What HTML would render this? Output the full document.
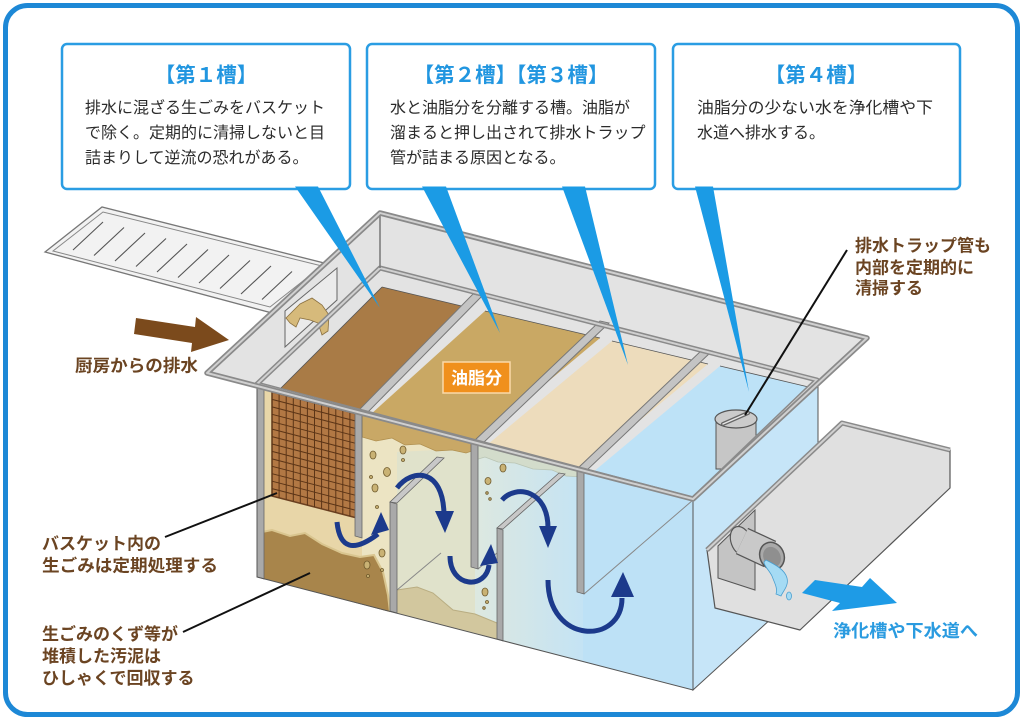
<!DOCTYPE html>
<html><head><meta charset="utf-8">
<style>
html,body{margin:0;padding:0;background:#fff;}
svg{display:block;}
text{font-family:"Liberation Sans","Noto Sans CJK JP",sans-serif;}
</style></head><body>
<svg width="1024" height="723" viewBox="0 0 1024 723" xmlns="http://www.w3.org/2000/svg">
<defs>
<linearGradient id="g3" x1="0" x2="1" y1="0" y2="0">
<stop offset="0" stop-color="#dde8e0"/><stop offset="1" stop-color="#c4e3f4"/>
</linearGradient>
</defs>
<rect width="1024" height="723" fill="#fff"/>
<rect x="5.5" y="5.5" width="1012" height="709" rx="22" fill="none" stroke="#1d88d6" stroke-width="5"/>

<!-- callout boxes -->
<g fill="#fff" stroke="#2a9de3" stroke-width="2.5">
<rect x="62" y="44" width="288" height="145" rx="5"/>
<rect x="367" y="44" width="288" height="145" rx="5"/>
<rect x="673" y="44" width="287" height="145" rx="5"/>
</g>
<g font-weight="bold" font-size="20.5" fill="#2196e0" text-anchor="middle">
<text x="206" y="82">【第１槽】</text>
<text x="511" y="82">【第２槽】【第３槽】</text>
<text x="816" y="82">【第４槽】</text>
</g>
<g font-size="16" fill="#2b2b2b">
<text x="85" y="113">排水に混ざる生ごみをバスケット</text>
<text x="85" y="138">で除く。定期的に清掃しないと目</text>
<text x="85" y="163">詰まりして逆流の恐れがある。</text>
<text x="390" y="113">水と油脂分を分離する槽。油脂が</text>
<text x="390" y="138">溜まると押し出されて排水トラップ</text>
<text x="390" y="163">管が詰まる原因となる。</text>
<text x="697" y="113" textLength="236" lengthAdjust="spacingAndGlyphs">油脂分の少ない水を浄化槽や下</text>
<text x="697" y="138">水道へ排水する。</text>
</g>

<!-- grating -->
<polygon points="45,252 102,207 328,264 272,313" fill="#f2f2f2" stroke="#777" stroke-width="1.3"/>
<polygon points="53,251 103,212 322,266 270,307" fill="none" stroke="#888" stroke-width="1"/>
<path d="M73 250l30 -28M94 255.5l30 -28M115 261l30 -28M136 266.5l30 -28M157 272l30 -28M178 277.5l30 -28M199 283l30 -28M220 288.5l30 -28M241 294l30 -28M262 299.5l30 -28" stroke="#555" stroke-width="1.1"/>

<!-- tank top -->
<polygon points="207,373 380,213 867,338 693,499" fill="#e3e3e3"/>
<!-- inlet window -->
<polygon points="285,311 337,268 337,300 285,347" fill="#ebebeb" stroke="#666" stroke-width="1"/>
<path d="M286,318 L300,304 L312,298 L322,305 L329,315 L328,331 L322,335 L318,323 L310,320 L300,318 L296,327 L290,323 Z" fill="#d6ba7b" stroke="#8a7040" stroke-width="0.8"/>

<!-- liquids -->
<polygon points="278,391 382,287 470,308 358,412" fill="#a97b46"/>
<polygon points="370,415 485,311 600,338 476,442" fill="#c9a864"/>
<polygon points="487,445 612,341 708,364 580,470" fill="#eddcbc"/>
<polygon points="592,473 720,366 817,389 693,499" fill="#bde2f7"/>
<g stroke="#555" stroke-width="0.8">
<line x1="278" y1="391" x2="382" y2="287"/><line x1="382" y1="287" x2="470" y2="308"/>
<line x1="485" y1="311" x2="600" y2="338"/><line x1="612" y1="341" x2="708" y2="364"/>
<line x1="720" y1="366" x2="817" y2="389"/>
</g>

<!-- dividers -->
<g fill="#c4c4c4" stroke="#777" stroke-width="1">
<polygon points="357,412 366,414 482,296 473,294"/>
<polygon points="473,442 482,444 609,323 600,321"/>
<polygon points="577,469 586,471 712,351 703,349"/>
</g>

<!-- ch4 pipe -->
<rect x="716" y="419" width="40" height="50" fill="#c6c6c6" stroke="#555" stroke-width="1"/>
<ellipse cx="736" cy="419" rx="21" ry="9" fill="#cbcbcb" stroke="#555" stroke-width="1.2"/>
<line x1="723" y1="424" x2="748" y2="413" stroke="#666" stroke-width="4" stroke-linecap="round"/>
<line x1="723" y1="424" x2="748" y2="413" stroke="#e6e6e6" stroke-width="1.5" stroke-linecap="round"/>

<!-- rims -->
<polygon points="257,384 380,268 817,380 693,499" fill="none" stroke="#8a8a8a" stroke-width="5" stroke-linejoin="round"/>
<polygon points="257,384 380,268 817,380 693,499" fill="none" stroke="#d0d0d0" stroke-width="2" stroke-linejoin="round"/>
<line x1="380" y1="213" x2="380" y2="268" stroke="#777" stroke-width="1.5"/>

<!-- front section -->
<polygon points="257,386 362,413 362,604 257,577" fill="#e8d6a8"/>
<polygon points="362,413 475,442 475,633 362,604" fill="#ece4c3"/>
<polygon points="397,452 475,448 475,633 397,613" fill="#e0e2cb"/>
<polygon points="475,442 583,470 583,662 475,633" fill="url(#g3)"/>
<polygon points="583,470 693,499 693,690 583,662" fill="#bde1f6"/>
<polygon points="693,499 818,386 818,576 693,690" fill="#c6e5f8" stroke="#555" stroke-width="1"/>

<polygon points="362,413 475,442 475,450 466,453 452,450 436,451 420,444 405,445 392,438 376,441 362,437" fill="#c9a866" stroke="#b09050" stroke-width="0.8"/>
<polygon points="475,442 583,470 583,477 566,476 552,470 533,469 515,463 498,462 485,457 475,460" fill="#d3dccb" stroke="#b9c4b4" stroke-width="0.8"/>

<polygon points="397,590 417,587 433,593 453,610 475,614 497,623 497,639 475,633 397,613" fill="#d2c79e"/>
<polyline points="397,590 417,587 433,593 453,610 475,614 497,623" fill="none" stroke="#b9ad82" stroke-width="1"/>
<polygon points="257,533 272,530 290,536 305,533 322,544 342,553 360,557 374,555 383,572 388,595 390,612 257,577" fill="#a8854b"/>
<polyline points="257,533 272,530 290,536 305,533 322,544 342,553 360,557 374,555 383,572 388,595 390,612" fill="none" stroke="#d9c58f" stroke-width="2"/>

<!-- basket -->
<polygon points="272,392 357,414 357,518 272,496" fill="#b27844" stroke="#6b4020" stroke-width="1.5"/>
<path d="M272 392V496M279.1 393.8V497.8M286.2 395.7V499.7M293.3 397.5V501.5M300.3 399.3V503.3M307.4 401.2V505.2M314.5 403V507M321.6 404.8V508.8M328.7 406.7V510.7M335.8 408.5V512.5M342.8 410.3V514.3M349.9 412.2V516.2M357 414V518M272 399.4l85 22M272 406.9l85 22M272 414.3l85 22M272 421.7l85 22M272 429.1l85 22M272 436.6l85 22M272 444l85 22M272 451.4l85 22M272 458.9l85 22M272 466.3l85 22M272 473.7l85 22M272 481.2l85 22M272 488.6l85 22" stroke="#5b3416" stroke-width="1"/>

<!-- depth lines -->
<g stroke="#888" stroke-width="1">
<line x1="397" y1="590" x2="441" y2="553"/>
<line x1="478" y1="569" x2="497" y2="553"/>
<line x1="584" y1="594" x2="693" y2="500"/>
</g>

<!-- partitions -->
<g fill="#a9a9a9" stroke="#666" stroke-width="0.8">
<polygon points="257,386 264,388 264,579 257,577"/>
<polygon points="355,412 362,414 362,538 355,536"/>
<polygon points="471,441 478,443 478,569 471,567"/>
<polygon points="577,468 584,470 584,594 577,592"/>
<polygon points="390,502 397,503 444,458 437,457" fill="#c8c8c8"/>
<polygon points="390,502 397,504 397,613 390,611"/>
<polygon points="497,528 503,529 565,474 559,473" fill="#c8c8c8"/>
<polygon points="497,528 503,530 503,641 497,639"/>
</g>
<polygon points="257,386 693,499 693,690 257,577" fill="none" stroke="#555" stroke-width="1"/>

<!-- bubbles -->
<g fill="#c9b274" stroke="#6f5a2c" stroke-width="0.8">
<ellipse cx="373" cy="455" rx="3" ry="4"/><ellipse cx="403" cy="450" rx="3" ry="4"/>
<ellipse cx="387" cy="472" rx="3.5" ry="4.5"/><ellipse cx="375" cy="488" rx="3" ry="4"/>
<ellipse cx="371" cy="477" rx="1.5" ry="1.5"/><ellipse cx="377" cy="507" rx="1.5" ry="1.5"/>
<ellipse cx="382" cy="553" rx="3" ry="4"/><ellipse cx="367" cy="565" rx="3" ry="4"/>
<ellipse cx="382" cy="570" rx="1.5" ry="1.5"/><ellipse cx="368" cy="576" rx="1.5" ry="1.5"/>
<ellipse cx="403" cy="460" rx="1.5" ry="1.5"/>
<ellipse cx="503" cy="468" rx="3" ry="4"/><ellipse cx="488" cy="481" rx="3" ry="3.5"/>
<ellipse cx="487" cy="493" rx="1.3" ry="1.3"/><ellipse cx="490" cy="499" rx="1.3" ry="1.3"/>
<ellipse cx="485" cy="592" rx="3" ry="4"/><ellipse cx="487" cy="602" rx="1.5" ry="1.5"/>
<ellipse cx="484" cy="608" rx="1.3" ry="1.3"/>
</g>

<!-- outer rim on top -->
<polygon points="207,373 380,213 867,338 693,499" fill="none" stroke="#8a8a8a" stroke-width="5.5" stroke-linejoin="round"/>
<polygon points="207,373 380,213 867,338 693,499" fill="none" stroke="#d0d0d0" stroke-width="2" stroke-linejoin="round"/>

<!-- flow arrows -->
<g fill="none" stroke="#1c3a8c" stroke-width="5">
<path d="M337,522 Q341,562 378,534"/>
<path d="M397,488 C412,468 443,468 444,514"/>
<path d="M450,556 C450,588 486,590 489,565"/>
<path d="M502,500 C516,484 548,490 548,528"/>
<path d="M548,580 C548,645 622,645 622,598"/>
</g>
<g fill="#1c3a8c">
<polygon points="371,535 389,530 381,512"/>
<polygon points="435,511 454,511 445,533"/>
<polygon points="480,566 498,563 491,544"/>
<polygon points="539,526 557,526 548,548"/>
<polygon points="611,597 634,597 623,572"/>
</g>

<!-- outlet box -->
<polygon points="707,550 842,423 950,450 950,488 800,630 715,608" fill="#e0e0e0" stroke="#555" stroke-width="1.2" stroke-linejoin="round"/>
<polyline points="707,550 842,423 950,450" fill="none" stroke="#8a8a8a" stroke-width="5" stroke-linejoin="round"/>
<polyline points="707,550 842,423 950,450" fill="none" stroke="#d0d0d0" stroke-width="2" stroke-linejoin="round"/>
<polygon points="718,546 755,510 755,590 718,578" fill="#c4c4c4" stroke="#555" stroke-width="1"/>
<ellipse cx="741" cy="541" rx="10" ry="15" transform="rotate(-20 741 541)" fill="#c9c9c9" stroke="#555" stroke-width="1.2"/>
<line x1="742" y1="541" x2="770" y2="554" stroke="#555" stroke-width="29"/>
<line x1="742" y1="541" x2="770" y2="554" stroke="#c9c9c9" stroke-width="26.5"/>
<ellipse cx="772" cy="556" rx="12" ry="14" transform="rotate(-25 772 556)" fill="#a9a9a9" stroke="#555" stroke-width="1.5"/>
<ellipse cx="772" cy="557" rx="8.5" ry="10.5" transform="rotate(-25 772 557)" fill="#8f8f8f"/>
<path d="M766,560 C776,565 785,570 787,578 C789,586 783,591 781,596 L776,594 C778,588 774,582 772,576 C769,570 764,566 764,562 Z" fill="#a5dbf4" stroke="#4a9fd0" stroke-width="0.8"/>
<ellipse cx="789" cy="596" rx="2.5" ry="4" fill="#a5dbf4" stroke="#4a9fd0" stroke-width="0.8"/>

<!-- blue outflow arrow -->
<polygon points="815,580 862,587 870,578 897,603 832,611 840,603 802,593" fill="#1e9be6"/>
<text x="833" y="637" font-size="17.5" font-weight="bold" fill="#2a9be0" textLength="145" lengthAdjust="spacingAndGlyphs">浄化槽や下水道へ</text>

<!-- brown inflow arrow -->
<polygon points="136,318 195,327 196,317 229,340 191,352 192,343 134,334" fill="#7b4a1c"/>

<!-- oil label -->
<rect x="443" y="362" width="67" height="31" fill="#f0901c" stroke="#fbd9a8" stroke-width="1.5"/>
<text x="476.5" y="384" font-size="17" font-weight="bold" fill="#fff" text-anchor="middle">油脂分</text>

<!-- pointers -->
<g fill="#1b9be5">
<polygon points="295,186.5 318,186.5 380,308"/>
<polygon points="422,186.5 446,186.5 500,333"/>
<polygon points="562,186.5 585,186.5 628,365"/>
<polygon points="695,186.5 713,186.5 749,392"/>
</g>

<!-- leader lines -->
<g stroke="#111" stroke-width="2">
<line x1="847" y1="250" x2="745" y2="415"/>
<line x1="165" y1="537" x2="277" y2="493"/>
<line x1="183" y1="632" x2="310" y2="573"/>
</g>

<!-- brown labels -->
<g font-size="17" font-weight="bold" fill="#6b4422">
<text x="75" y="371.5" textLength="123" lengthAdjust="spacingAndGlyphs">厨房からの排水</text>
<text x="855" y="251.5">排水トラップ管も</text>
<text x="855" y="273.5">内部を定期的に</text>
<text x="855" y="294">清掃する</text>
<text x="42" y="549.5">バスケット内の</text>
<text x="42" y="571.5" textLength="176" lengthAdjust="spacingAndGlyphs">生ごみは定期処理する</text>
<text x="42" y="640">生ごみのくず等が</text>
<text x="42" y="662">堆積した汚泥は</text>
<text x="42" y="684">ひしゃくで回収する</text>
</g>
</svg>
</body></html>
